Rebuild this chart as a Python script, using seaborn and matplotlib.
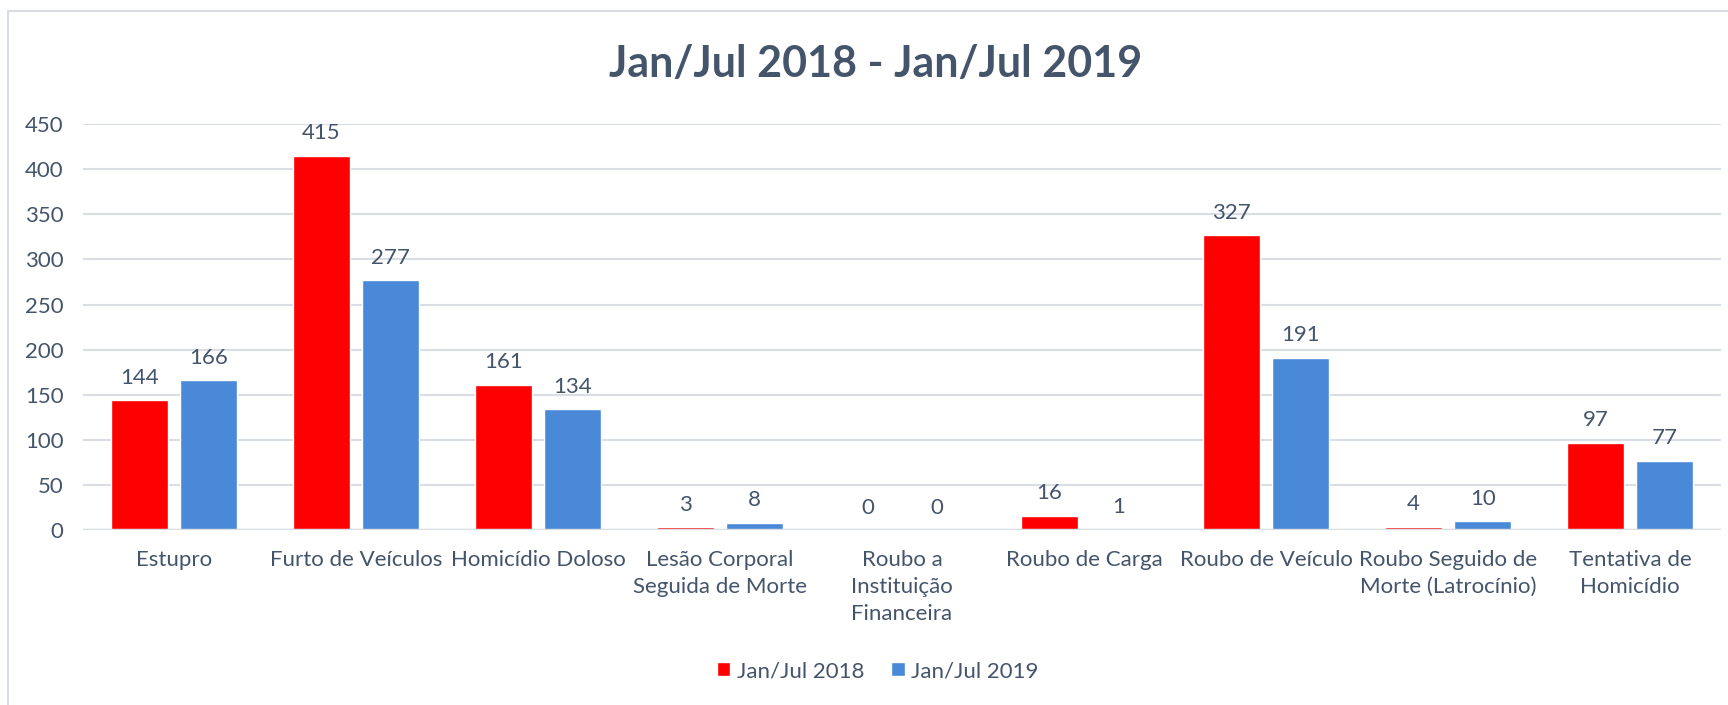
import pandas as pd
import seaborn as sns
import matplotlib.pyplot as plt
from matplotlib.patches import Rectangle

categories = ["Estupro", "Furto de Veículos", "Homicídio Doloso",
              "Lesão Corporal\nSeguida de Morte", "Roubo a\nInstituição\nFinanceira",
              "Roubo de Carga", "Roubo de Veículo",
              "Roubo Seguido de\nMorte (Latrocínio)", "Tentativa de\nHomicídio"]
series = ["Jan/Jul 2018", "Jan/Jul 2019"]
vals_2018 = [144, 415, 161, 3, 0, 16, 327, 4, 97]
vals_2019 = [166, 277, 134, 8, 0, 1, 191, 10, 77]
yticks = [0, 50, 100, 150, 200, 250, 300, 350, 400, 450]

txt = "#44546A"
grid_c = "#D9DDE4"

sns.set_theme(style="white")
plt.rcParams["font.family"] = ["Lato", "DejaVu Sans"]

df = pd.DataFrame({
    "Crime": categories * 2,
    "Periodo": [series[0]] * len(categories) + [series[1]] * len(categories),
    "Valor": vals_2018 + vals_2019,
})

fig = plt.figure(figsize=(17.28, 7.05), dpi=100)
ax = fig.add_axes([0.048, 0.248, 0.948, 0.576])

sns.barplot(data=df, x="Crime", y="Valor", hue="Periodo", palette=["#FF0000", "#4A89D8"],
            width=0.76, gap=0.18, ax=ax, legend=True, saturation=1)

ax.set_ylim(0, 450)
ax.set_xlim(-0.5, len(categories) - 0.5)
ax.set_yticks(yticks)
ax.yaxis.grid(True, color=grid_c, lw=1.5)
ax.set_axisbelow(True)
for s in ax.spines.values():
    s.set_visible(False)
ax.axhline(0, color=grid_c, lw=2.5, zorder=1)
ax.set_xlabel("")
ax.set_ylabel("")
ax.tick_params(axis="y", labelsize=16, labelcolor=txt, length=0, pad=14)
ax.tick_params(axis="x", labelsize=16, labelcolor=txt, length=0, pad=14)
for lab in ax.get_xticklabels():
    lab.set_linespacing(1.45)

for cont in ax.containers:
    ax.bar_label(cont, fmt="%d", padding=9, fontsize=16, color=txt)

handles, labels = ax.get_legend_handles_labels()
ax.legend_.remove()
fig.legend(handles, labels, loc="center", bbox_to_anchor=(0.508, 0.048), ncol=2, frameon=False,
           fontsize=16, labelcolor=txt, handlelength=0.6, handleheight=0.6,
           handletextpad=0.3, columnspacing=1.2)

fig.suptitle("Jan/Jul 2018 - Jan/Jul 2019", x=0.507, y=0.909, va="center", fontsize=31,
             fontweight="bold", color=txt)

fig.patches.append(Rectangle((8 / 1728, -0.1), 1.2, 1 - 11 / 705 + 0.1, transform=fig.transFigure,
                             fill=False, edgecolor="#D9DDE4", lw=1.5))

fig.savefig("out.png", dpi=100)
